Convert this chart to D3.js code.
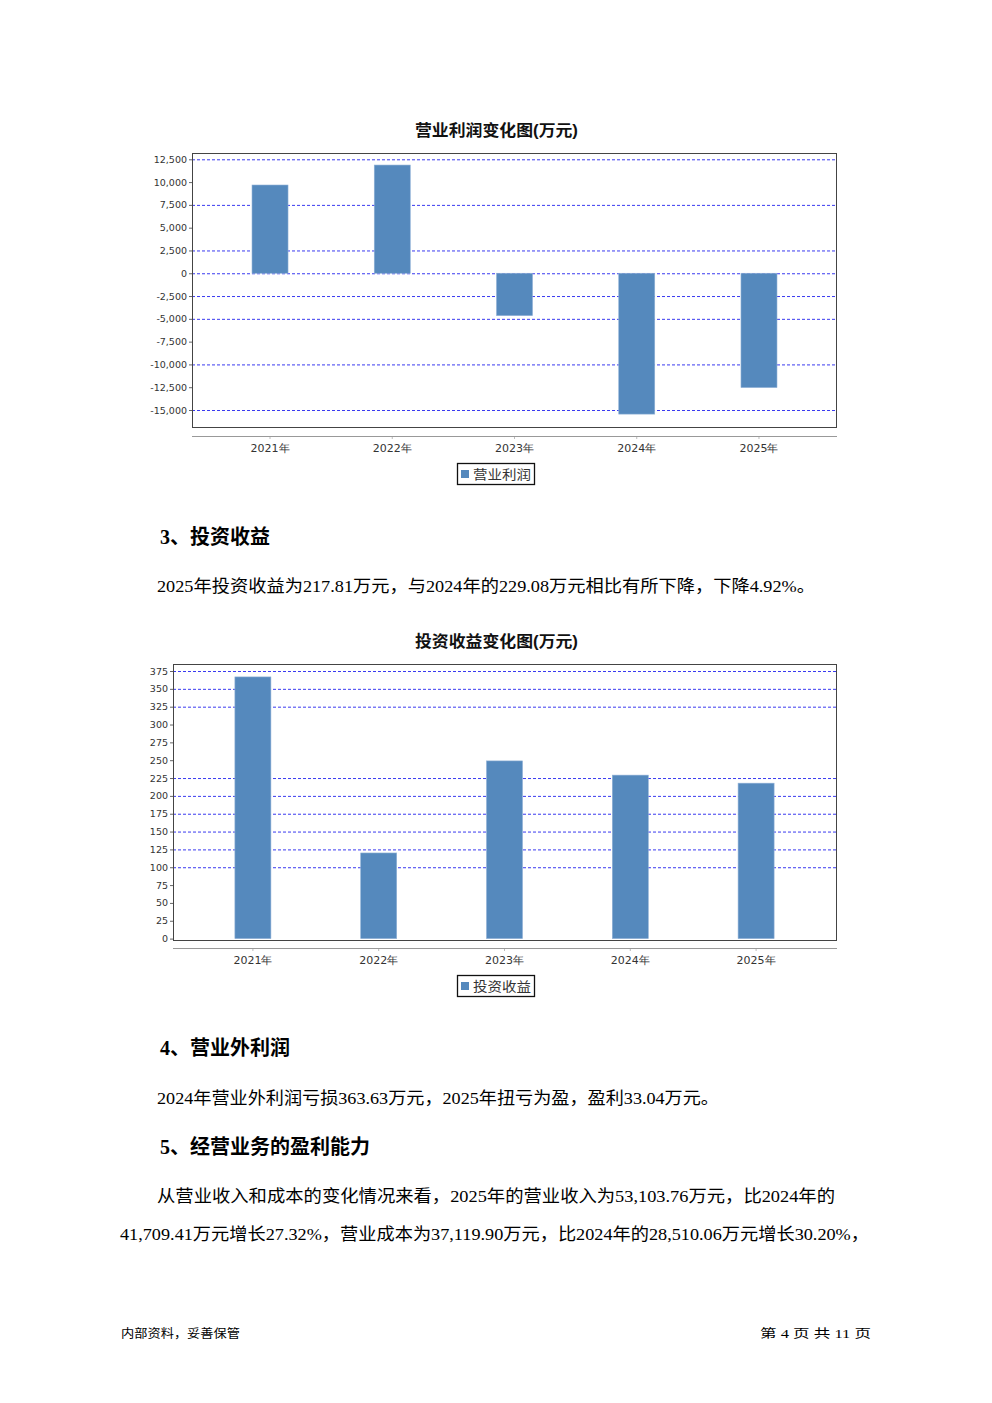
<!DOCTYPE html>
<html>
<head>
<meta charset="utf-8">
<script src="https://cdn.jsdelivr.net/npm/d3@7/dist/d3.min.js"></script>
<style>
  html, body { margin: 0; padding: 0; background: #fff; }
  svg { display: block; }
</style>
</head>
<body>
<script>
// ---------- DATA ----------
const categories = ["2021年", "2022年", "2023年", "2024年", "2025年"];

const profitTitle = "营业利润变化图(万元)";
const profitSeries = "营业利润";
const profitValues = [9680, 11870, -4650, -15450, -12540];
const profitTicks = [12500, 10000, 7500, 5000, 2500, 0, -2500, -5000, -7500, -10000, -12500, -15000];
const profitGridTicks = [12500, 7500, 2500, 0, -2500, -5000, -10000, -15000];

const investTitle = "投资收益变化图(万元)";
const investSeries = "投资收益";
const investValues = [366.7, 120.0, 249.0, 229.08, 217.81];
const investTicks = [0, 25, 50, 75, 100, 125, 150, 175, 200, 225, 250, 275, 300, 325, 350, 375];
const investGridTicks = [375, 350, 325, 225, 200, 175, 150, 125, 100];

const textBlocks = [
  { kind: "h", text: "3、投资收益", x: 160, y: 544 },
  { kind: "p", text: "2025年投资收益为217.81万元，与2024年的229.08万元相比有所下降，下降4.92%。", x: 157, y: 592, w: 658 },
  { kind: "h", text: "4、营业外利润", x: 160, y: 1055 },
  { kind: "p", text: "2024年营业外利润亏损363.63万元，2025年扭亏为盈，盈利33.04万元。", x: 157, y: 1104, w: 562 },
  { kind: "h", text: "5、经营业务的盈利能力", x: 160, y: 1154 },
  { kind: "p", text: "从营业收入和成本的变化情况来看，2025年的营业收入为53,103.76万元，比2024年的", x: 157, y: 1202, w: 678 },
  { kind: "p", text: "41,709.41万元增长27.32%，营业成本为37,119.90万元，比2024年的28,510.06万元增长30.20%，", x: 120, y: 1240, w: 749 }
];
const footerLeft = "内部资料，妥善保管";
const footerRight = "第 4 页  共 11 页";

// ---------- PAGE ----------
const W = 992, H = 1403;
const svg = d3.select("body").append("svg").attr("width", W).attr("height", H);
svg.append("rect").attr("width", W).attr("height", H).attr("fill", "#fff");

const BAR = "#5589bd";
const GRID = "#3a3af0";
const tickFont = "'DejaVu Sans', Verdana, sans-serif";
const cjkSans = "'Noto Sans CJK SC', sans-serif";
const bodyFont = "'Liberation Serif', 'Noto Sans CJK SC', serif";
const fmt = d3.format(",");

function drawChart(cfg) {
  const g = svg.append("g");
  const { box } = cfg;
  // title
  g.append("text")
    .attr("x", cfg.titleX).attr("y", cfg.titleY)
    .attr("font-family", "'Liberation Sans', 'Noto Sans CJK SC', sans-serif")
    .attr("font-weight", "bold").attr("font-size", 16)
    .attr("textLength", 163).attr("lengthAdjust", "spacingAndGlyphs")
    .attr("fill", "#111").text(cfg.title);

  const y = d3.scaleLinear().domain(cfg.yDomain).range(cfg.yRange);
  const x = d3.scaleBand().domain(cfg.categories).range(cfg.xRange).padding(0);

  // gridlines
  g.selectAll("line.grid").data(cfg.grid).enter().append("line")
    .attr("x1", box.x0).attr("x2", box.x1)
    .attr("y1", d => y(d) + 0.5).attr("y2", d => y(d) + 0.5)
    .attr("stroke", GRID).attr("stroke-width", 1)
    .attr("stroke-dasharray", "3,2");

  // bars
  const bw = 36;
  g.selectAll("rect.bar").data(cfg.values).enter().append("rect")
    .attr("x", (d, i) => x(cfg.categories[i]) + x.bandwidth() / 2 - bw / 2)
    .attr("y", d => Math.min(y(d), y(0)))
    .attr("width", bw)
    .attr("height", d => Math.abs(y(d) - y(0)))
    .attr("fill", BAR)
    .attr("stroke", "#8fb0d6").attr("stroke-width", 0.6);

  // plot box
  g.append("rect")
    .attr("x", box.x0 + 0.5).attr("y", box.y0 + 0.5)
    .attr("width", box.x1 - box.x0).attr("height", box.y1 - box.y0)
    .attr("fill", "none").attr("stroke", "#444").attr("stroke-width", 1);

  // y axis ticks via d3 axis
  const yAxis = d3.axisLeft(y).tickValues(cfg.ticks).tickSize(3).tickPadding(2)
    .tickFormat(d => fmt(d).replace("\u2212", "-"));
  const ya = g.append("g").attr("transform", `translate(${box.x0},0)`).call(yAxis);
  ya.select(".domain").remove();
  ya.selectAll("line").attr("stroke", "#666");
  ya.selectAll("text").attr("font-family", tickFont).attr("font-size", cfg.tickSize)
    .attr("fill", "#333");

  // x axis (separate line below box)
  const xAxis = d3.axisBottom(x).tickSize(3).tickPadding(5).tickSizeOuter(0);
  const xa = g.append("g").attr("transform", `translate(0,${cfg.xAxisY})`).call(xAxis);
  xa.select(".domain").remove();
  xa.append("line").attr("x1", box.x0).attr("x2", box.x1 + 1).attr("y1", 0.5).attr("y2", 0.5)
    .attr("stroke", "#999").attr("stroke-width", 1.2);
  xa.selectAll(".tick line").attr("stroke", "#bbb");
  xa.selectAll("text").attr("font-family", tickFont).attr("font-size", 11).attr("fill", "#333");

  // legend
  const lg = g.append("g");
  lg.append("rect").attr("x", 457.5).attr("y", cfg.legendY + 0.5).attr("width", 77).attr("height", 21)
    .attr("fill", "#fff").attr("stroke", "#111").attr("stroke-width", 1.3);
  lg.append("rect").attr("x", 461).attr("y", cfg.legendY + 7).attr("width", 8).attr("height", 8).attr("fill", BAR);
  lg.append("text").attr("x", 473).attr("y", cfg.legendY + 16)
    .attr("font-family", cjkSans).attr("font-size", 13).attr("fill", "#333")
    .attr("textLength", 58).attr("lengthAdjust", "spacingAndGlyphs").text(cfg.series);
}

drawChart({
  title: profitTitle, titleX: 415, titleY: 136,
  categories: categories, values: profitValues,
  ticks: profitTicks, grid: profitGridTicks,
  yDomain: [-15000, 12500], yRange: [410, 159.3],
  xRange: [208.9, 820.1],
  box: { x0: 192, x1: 836, y0: 153, y1: 427 },
  xAxisY: 436, legendY: 463, series: profitSeries, tickSize: 9.5
});

drawChart({
  title: investTitle, titleX: 415, titleY: 647,
  categories: categories, values: investValues,
  ticks: investTicks, grid: investGridTicks,
  yDomain: [0, 375], yRange: [938.6, 671],
  xRange: [190, 819],
  box: { x0: 173, x1: 836, y0: 664, y1: 940 },
  xAxisY: 948, legendY: 975, series: investSeries, tickSize: 9.5
});

// ---------- TEXT ----------
textBlocks.forEach(b => {
  const t = svg.append("text").attr("x", b.x).attr("y", b.y).attr("fill", "#000").text(b.text);
  if (b.kind === "h") {
    t.attr("font-family", "'Liberation Serif', 'Noto Sans CJK SC', serif")
      .attr("font-weight", "bold").attr("font-size", 20);
  } else {
    t.attr("font-family", bodyFont).attr("font-size", 17)
      .attr("textLength", b.w).attr("lengthAdjust", "spacingAndGlyphs");
  }
});

svg.append("text").attr("x", 121).attr("y", 1338)
  .attr("font-family", cjkSans).attr("font-size", 12).attr("fill", "#000")
  .attr("textLength", 119).attr("lengthAdjust", "spacingAndGlyphs").text(footerLeft);
svg.append("text").attr("x", 760).attr("y", 1338)
  .attr("font-family", "'Liberation Serif', 'Noto Sans CJK SC', serif").attr("font-size", 12).attr("fill", "#000")
  .attr("textLength", 111).attr("lengthAdjust", "spacingAndGlyphs").text(footerRight);
</script>
</body>
</html>
